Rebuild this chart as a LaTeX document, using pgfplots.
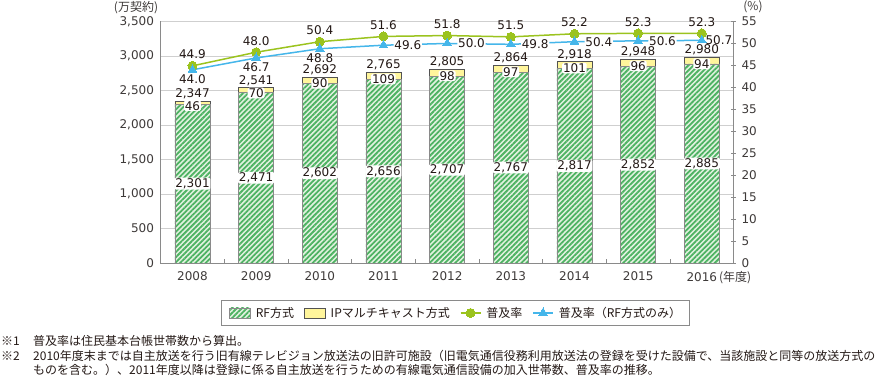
\documentclass[border=0pt]{standalone}
\usepackage{pgfplots}
\pgfplotsset{compat=1.18}
\usepackage{pgfplotstable}
\usepackage{fontspec}
\setmainfont{DejaVu Sans}
\newfontfamily\jp{Noto Sans CJK JP}
\usetikzlibrary{patterns.meta}

\definecolor{hatchgreen}{HTML}{4DB262}
\definecolor{hatchbg}{HTML}{E2F2E0}
\definecolor{ipyellow}{HTML}{FFF59B}
\definecolor{linegreen}{HTML}{9BC31E}
\definecolor{lineblue}{HTML}{45B6EA}
\definecolor{txt}{HTML}{231815}
\definecolor{tickc}{HTML}{3E3A39}
\definecolor{gridc}{HTML}{CFCFCF}
\definecolor{axisc}{HTML}{8A8A8A}

\pgfplotstableread{
x rf ip total pa pb
0 2301 46 2347 44.9 44.0
1 2471 70 2541 48.0 46.7
2 2602 90 2692 50.4 48.8
3 2656 109 2765 51.6 49.6
4 2707 98 2805 51.8 50.0
5 2767 97 2864 51.5 49.8
6 2817 101 2918 52.2 50.4
7 2852 96 2948 52.3 50.6
8 2885 94 2980 52.3 50.7
}\data

\tikzset{
  lbl/.style={font=\fontsize{12}{14}\selectfont, text=txt, inner sep=0pt},
  halo/.style={fill=white, inner sep=0.8pt, rounded corners=1.5pt},
  hatchbar/.style={preaction={fill=hatchbg}, pattern={Lines[angle=45,distance=3.6pt,line width=1.8pt]}, pattern color=hatchgreen, draw=axisc, line width=0.7pt},
  ipbar/.style={fill=ipyellow, draw=axisc!60!black, line width=0.7pt},
}
\pgfplotsset{
  base/.style={
    at={(160pt,114pt)}, anchor=south west,
    width=573pt, height=241.5pt, scale only axis,
    xmin=-0.51, xmax=8.49,
    /pgf/number format/assume math mode=true,
    /pgf/number format/1000 sep={,},
    tick label style={font=\fontsize{12}{14}\selectfont, text=tickc},
    clip=false,
  },
  boxlegend/.style={legend image code/.code={\draw[##1] (0pt,-5pt) rectangle (21pt,5pt);}},
  linelegend/.style={legend image code/.code={\draw[mark repeat=2,mark phase=2,##1] plot coordinates {(0pt,0pt) (10pt,0pt) (20pt,0pt)};}},
  greenline/.style={linegreen, line width=1.5pt, mark=*, mark size=4.5pt, mark options={fill=linegreen, draw=linegreen, line width=0pt}},
  blueline/.style={lineblue, line width=1.5pt, mark=triangle*, mark size=5pt, mark options={fill=lineblue, draw=lineblue, line width=0pt}},
}

\begin{document}
\begin{tikzpicture}
\useasboundingbox (0,0) rectangle (880pt,377pt);

% ---- bars (left axis)
\begin{axis}[base,
  ybar stacked, bar width=35pt,
  ymin=0, ymax=3500, ytick={0,500,...,3500},
  axis x line*=bottom, axis y line*=left,
  axis line style={axisc, line width=0.8pt},
  ymajorgrids, grid style={gridc, line width=0.8pt},
  major y tick style={draw=none},
  xtick={0,...,8},
  xticklabels={2008,2009,2010,2011,2012,2013,2014,2015,{2016\rlap{\jp\,(年度)}}},
  major x tick style={draw=none},
  minor xtick={0.5,1.5,...,7.5},
  minor x tick style={axisc, line width=0.8pt},
  minor tick length=4pt,
  xtick align=inside,
  xticklabel style={yshift=-5pt},
  yticklabel style={xshift=-2.5pt},
]
\addplot[hatchbar] table[x=x,y=rf]{\data};
\addplot[ipbar] table[x=x,y=ip]{\data};
\end{axis}

% ---- lines (right axis)
\begin{axis}[base,
  ymin=0, ymax=55, ytick={0,5,...,55},
  axis x line=none, axis y line*=right,
  axis line style={axisc, line width=0.8pt},
  ytick align=center, major tick length=5pt,
  y tick style={axisc, line width=0.8pt},
  yticklabel style={xshift=2.5pt},
  legend columns=4,
  legend style={at={(rel axis cs:0.515,-0.207)}, anchor=center,
    draw=axisc, line width=0.7pt, text=txt,
    font=\jp\fontsize{12}{14}\selectfont,
    nodes={inner sep=0pt},
    inner xsep=8pt, inner ysep=6.5pt,
    /tikz/every odd column/.append style={column sep=5pt},
    /tikz/every even column/.append style={column sep=10pt}},
  legend cell align=left,
]
\addlegendimage{boxlegend, hatchbar}
\addlegendentry{RF方式}
\addlegendimage{boxlegend, ipbar}
\addlegendentry{IPマルチキャスト方式}
\addplot[greenline, linelegend] table[x=x,y=pa]{\data};
\addlegendentry{普及率}
\addplot[blueline, linelegend] table[x=x,y=pb]{\data};
\addlegendentry{普及率（RF方式のみ）}

% percent labels
\addplot[draw=none, mark=none, forget plot, point meta=explicit,
  nodes near coords={\pgfmathprintnumber[fixed,fixed zerofill,precision=1]{\pgfplotspointmeta}},
  every node near coord/.append style={lbl, anchor=south, yshift=6.5pt}]
  table[x=x,y=pa,meta=pa]{\data};
\addplot[draw=none, mark=none, forget plot, point meta=explicit, restrict x to domain=0:2,
  nodes near coords={\pgfmathprintnumber[fixed,fixed zerofill,precision=1]{\pgfplotspointmeta}},
  every node near coord/.append style={lbl, anchor=north, yshift=-4.5pt}]
  table[x=x,y=pb,meta=pb]{\data};
\addplot[draw=none, mark=none, forget plot, point meta=explicit, restrict x to domain=3:7,
  nodes near coords={\pgfmathprintnumber[fixed,fixed zerofill,precision=1]{\pgfplotspointmeta}},
  every node near coord/.append style={lbl, halo, anchor=west, xshift=10pt}]
  table[x=x,y=pb,meta=pb]{\data};
\addplot[draw=none, mark=none, forget plot, point meta=explicit, restrict x to domain=8:8,
  nodes near coords={\pgfmathprintnumber[fixed,fixed zerofill,precision=1]{\pgfplotspointmeta}},
  every node near coord/.append style={lbl, anchor=west, xshift=3.5pt}]
  table[x=x,y=pb,meta=pb]{\data};
\end{axis}

% ---- bar labels
\begin{axis}[base, ymin=0, ymax=3500, hide axis]
\addplot[draw=none, mark=none, point meta=explicit,
  nodes near coords={\pgfmathprintnumber{\pgfplotspointmeta}},
  every node near coord/.append style={lbl, halo, anchor=center}]
  table[x=x, y expr=\thisrow{rf}/2, meta=rf]{\data};
\addplot[draw=none, mark=none, point meta=explicit,
  nodes near coords={\pgfmathprintnumber{\pgfplotspointmeta}},
  every node near coord/.append style={lbl, halo, anchor=center, yshift=-3pt}]
  table[x=x, y expr=\thisrow{rf}+0.5*\thisrow{ip}, meta=ip]{\data};
\addplot[draw=none, mark=none, point meta=explicit,
  nodes near coords={\pgfmathprintnumber{\pgfplotspointmeta}},
  every node near coord/.append style={lbl, anchor=south, yshift=2pt}]
  table[x=x, y=total, meta=total]{\data};
\end{axis}

% ---- units and notes
\node[font=\jp\fontsize{12}{14}\selectfont, text=tickc] at (136pt,369.5pt) {(万契約)};
\node[font=\jp\fontsize{12}{14}\selectfont, text=tickc] at (753pt,370pt) {(\%)};
\begin{scope}[every node/.style={anchor=base west, inner sep=0pt, text=txt, font=\jp\fontsize{12}{14}\selectfont}]
\node at (1pt,31pt) {※1};
\node at (33pt,31pt) {普及率は住民基本台帳世帯数から算出。};
\node at (1pt,16.5pt) {※2};
\node at (33pt,16.5pt) {2010年度末までは自主放送を行う旧有線テレビジョン放送法の旧許可施設（旧電気通信役務利用放送法の登録を受けた設備で、当該施設と同等の放送方式の};
\node at (33pt,2pt) {ものを含む。）、2011年度以降は登録に係る自主放送を行うための有線電気通信設備の加入世帯数、普及率の推移。};
\end{scope}
\end{tikzpicture}
\end{document}
